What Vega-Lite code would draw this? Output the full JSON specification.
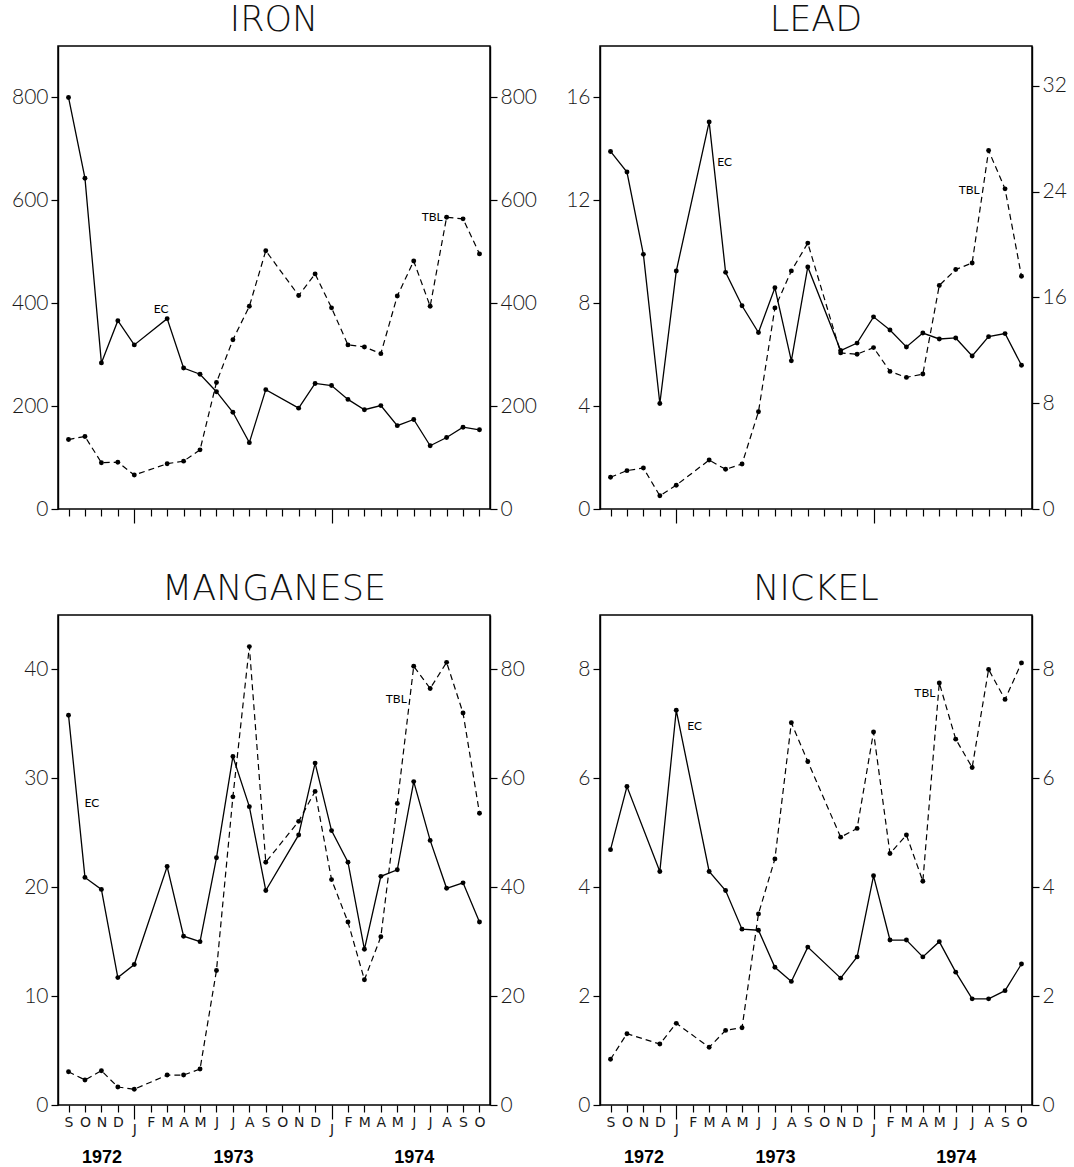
{
  "$schema": "https://vega.github.io/schema/vega-lite/v6.json",
  "background": "white",
  "padding": {"left": 10, "top": 2, "right": 5, "bottom": 0},
  "config": {
    "view": {"stroke": "black", "strokeWidth": 1.5},
    "axis": {"labelFont": "Lato", "labelFontSize": 21, "labelFontWeight": 300, "labelColor": "#1a1a1a", "tickColor": "black", "domainColor": "black", "grid": false, "tickWidth": 1.2, "domainWidth": 1.4},
    "title": {"font": "DejaVu Sans", "fontSize": 35, "fontWeight": 200, "color": "#111"}
  },
  "datasets": {
    "d": [
      {"metal": "IRON", "m": "1972-09", "ec": 800, "tbl": 135},
      {"metal": "IRON", "m": "1972-10", "ec": 643, "tbl": 141},
      {"metal": "IRON", "m": "1972-11", "ec": 284, "tbl": 90},
      {"metal": "IRON", "m": "1972-12", "ec": 366, "tbl": 91},
      {"metal": "IRON", "m": "1973-01", "ec": 319, "tbl": 66},
      {"metal": "IRON", "m": "1973-03", "ec": 370, "tbl": 88},
      {"metal": "IRON", "m": "1973-04", "ec": 274, "tbl": 93},
      {"metal": "IRON", "m": "1973-05", "ec": 262, "tbl": 115},
      {"metal": "IRON", "m": "1973-06", "ec": 228, "tbl": 246},
      {"metal": "IRON", "m": "1973-07", "ec": 188, "tbl": 329},
      {"metal": "IRON", "m": "1973-08", "ec": 129, "tbl": 394},
      {"metal": "IRON", "m": "1973-09", "ec": 232, "tbl": 502},
      {"metal": "IRON", "m": "1973-11", "ec": 196, "tbl": 415},
      {"metal": "IRON", "m": "1973-12", "ec": 244, "tbl": 457},
      {"metal": "IRON", "m": "1974-01", "ec": 240, "tbl": 391},
      {"metal": "IRON", "m": "1974-02", "ec": 213, "tbl": 319},
      {"metal": "IRON", "m": "1974-03", "ec": 193, "tbl": 315},
      {"metal": "IRON", "m": "1974-04", "ec": 201, "tbl": 302},
      {"metal": "IRON", "m": "1974-05", "ec": 162, "tbl": 414},
      {"metal": "IRON", "m": "1974-06", "ec": 174, "tbl": 482},
      {"metal": "IRON", "m": "1974-07", "ec": 123, "tbl": 394},
      {"metal": "IRON", "m": "1974-08", "ec": 139, "tbl": 567},
      {"metal": "IRON", "m": "1974-09", "ec": 159, "tbl": 564},
      {"metal": "IRON", "m": "1974-10", "ec": 154, "tbl": 496},
      {"metal": "LEAD", "m": "1972-09", "ec": 13.9, "tbl": 2.4},
      {"metal": "LEAD", "m": "1972-10", "ec": 13.1, "tbl": 2.9},
      {"metal": "LEAD", "m": "1972-11", "ec": 9.9, "tbl": 3.1},
      {"metal": "LEAD", "m": "1972-12", "ec": 4.1, "tbl": 1.0},
      {"metal": "LEAD", "m": "1973-01", "ec": 9.25, "tbl": 1.8},
      {"metal": "LEAD", "m": "1973-03", "ec": 15.05, "tbl": 3.7},
      {"metal": "LEAD", "m": "1973-04", "ec": 9.2, "tbl": 3.0},
      {"metal": "LEAD", "m": "1973-05", "ec": 7.9, "tbl": 3.4},
      {"metal": "LEAD", "m": "1973-06", "ec": 6.86, "tbl": 7.35},
      {"metal": "LEAD", "m": "1973-07", "ec": 8.6, "tbl": 15.2},
      {"metal": "LEAD", "m": "1973-08", "ec": 5.76, "tbl": 18.0},
      {"metal": "LEAD", "m": "1973-09", "ec": 9.41, "tbl": 20.1},
      {"metal": "LEAD", "m": "1973-11", "ec": 6.16, "tbl": 11.8},
      {"metal": "LEAD", "m": "1973-12", "ec": 6.45, "tbl": 11.7},
      {"metal": "LEAD", "m": "1974-01", "ec": 7.47, "tbl": 12.2},
      {"metal": "LEAD", "m": "1974-02", "ec": 6.96, "tbl": 10.4},
      {"metal": "LEAD", "m": "1974-03", "ec": 6.3, "tbl": 9.95},
      {"metal": "LEAD", "m": "1974-04", "ec": 6.84, "tbl": 10.2},
      {"metal": "LEAD", "m": "1974-05", "ec": 6.61, "tbl": 16.9},
      {"metal": "LEAD", "m": "1974-06", "ec": 6.65, "tbl": 18.1},
      {"metal": "LEAD", "m": "1974-07", "ec": 5.95, "tbl": 18.6},
      {"metal": "LEAD", "m": "1974-08", "ec": 6.7, "tbl": 27.1},
      {"metal": "LEAD", "m": "1974-09", "ec": 6.82, "tbl": 24.2},
      {"metal": "LEAD", "m": "1974-10", "ec": 5.59, "tbl": 17.6},
      {"metal": "MANGANESE", "m": "1972-09", "ec": 35.8, "tbl": 6.1},
      {"metal": "MANGANESE", "m": "1972-10", "ec": 20.9, "tbl": 4.6},
      {"metal": "MANGANESE", "m": "1972-11", "ec": 19.8, "tbl": 6.3},
      {"metal": "MANGANESE", "m": "1972-12", "ec": 11.7, "tbl": 3.3},
      {"metal": "MANGANESE", "m": "1973-01", "ec": 12.9, "tbl": 2.9},
      {"metal": "MANGANESE", "m": "1973-03", "ec": 21.9, "tbl": 5.5},
      {"metal": "MANGANESE", "m": "1973-04", "ec": 15.5, "tbl": 5.5},
      {"metal": "MANGANESE", "m": "1973-05", "ec": 15.0, "tbl": 6.6},
      {"metal": "MANGANESE", "m": "1973-06", "ec": 22.7, "tbl": 24.7},
      {"metal": "MANGANESE", "m": "1973-07", "ec": 32.0, "tbl": 56.6},
      {"metal": "MANGANESE", "m": "1973-08", "ec": 27.4, "tbl": 84.2},
      {"metal": "MANGANESE", "m": "1973-09", "ec": 19.7, "tbl": 44.6},
      {"metal": "MANGANESE", "m": "1973-11", "ec": 24.8, "tbl": 52.1},
      {"metal": "MANGANESE", "m": "1973-12", "ec": 31.4, "tbl": 57.6},
      {"metal": "MANGANESE", "m": "1974-01", "ec": 25.2, "tbl": 41.4},
      {"metal": "MANGANESE", "m": "1974-02", "ec": 22.3, "tbl": 33.6},
      {"metal": "MANGANESE", "m": "1974-03", "ec": 14.3, "tbl": 23.0},
      {"metal": "MANGANESE", "m": "1974-04", "ec": 21.0, "tbl": 30.9},
      {"metal": "MANGANESE", "m": "1974-05", "ec": 21.6, "tbl": 55.4},
      {"metal": "MANGANESE", "m": "1974-06", "ec": 29.7, "tbl": 80.6},
      {"metal": "MANGANESE", "m": "1974-07", "ec": 24.3, "tbl": 76.5},
      {"metal": "MANGANESE", "m": "1974-08", "ec": 19.9, "tbl": 81.3},
      {"metal": "MANGANESE", "m": "1974-09", "ec": 20.4, "tbl": 72.0},
      {"metal": "MANGANESE", "m": "1974-10", "ec": 16.8, "tbl": 53.6},
      {"metal": "NICKEL", "m": "1972-09", "ec": 4.69, "tbl": 0.84},
      {"metal": "NICKEL", "m": "1972-10", "ec": 5.85, "tbl": 1.31},
      {"metal": "NICKEL", "m": "1972-12", "ec": 4.29, "tbl": 1.12},
      {"metal": "NICKEL", "m": "1973-01", "ec": 7.25, "tbl": 1.5},
      {"metal": "NICKEL", "m": "1973-03", "ec": 4.29, "tbl": 1.06},
      {"metal": "NICKEL", "m": "1973-04", "ec": 3.94, "tbl": 1.37},
      {"metal": "NICKEL", "m": "1973-05", "ec": 3.23, "tbl": 1.42},
      {"metal": "NICKEL", "m": "1973-06", "ec": 3.21, "tbl": 3.51},
      {"metal": "NICKEL", "m": "1973-07", "ec": 2.53, "tbl": 4.52},
      {"metal": "NICKEL", "m": "1973-08", "ec": 2.27, "tbl": 7.02},
      {"metal": "NICKEL", "m": "1973-09", "ec": 2.9, "tbl": 6.31},
      {"metal": "NICKEL", "m": "1973-11", "ec": 2.33, "tbl": 4.92},
      {"metal": "NICKEL", "m": "1973-12", "ec": 2.72, "tbl": 5.08},
      {"metal": "NICKEL", "m": "1974-01", "ec": 4.21, "tbl": 6.85},
      {"metal": "NICKEL", "m": "1974-02", "ec": 3.03, "tbl": 4.62},
      {"metal": "NICKEL", "m": "1974-03", "ec": 3.03, "tbl": 4.96},
      {"metal": "NICKEL", "m": "1974-04", "ec": 2.72, "tbl": 4.11},
      {"metal": "NICKEL", "m": "1974-05", "ec": 3.0, "tbl": 7.75},
      {"metal": "NICKEL", "m": "1974-06", "ec": 2.44, "tbl": 6.72},
      {"metal": "NICKEL", "m": "1974-07", "ec": 1.95, "tbl": 6.2},
      {"metal": "NICKEL", "m": "1974-08", "ec": 1.95, "tbl": 8.0},
      {"metal": "NICKEL", "m": "1974-09", "ec": 2.1, "tbl": 7.45},
      {"metal": "NICKEL", "m": "1974-10", "ec": 2.59, "tbl": 8.12}
    ],
    "lab": [
      {"metal": "IRON", "s": "EC", "m": "1973-03", "v": 388, "label": "EC"},
      {"metal": "IRON", "s": "TBL", "m": "1974-07", "v": 567, "label": "TBL"},
      {"metal": "LEAD", "s": "EC", "m": "1973-04", "v": 13.5, "label": "EC"},
      {"metal": "LEAD", "s": "TBL", "m": "1974-07", "v": 24.1, "label": "TBL"},
      {"metal": "MANGANESE", "s": "EC", "m": "1972-10", "v": 27.7, "label": "EC"},
      {"metal": "MANGANESE", "s": "TBL", "m": "1974-05", "v": 74.5, "label": "TBL"},
      {"metal": "NICKEL", "s": "EC", "m": "1973-02", "v": 6.96, "label": "EC"},
      {"metal": "NICKEL", "s": "TBL", "m": "1974-04", "v": 7.57, "label": "TBL"}
    ]
  },
  "concat": [
    {
      "width": 432, "height": 463,
      "title": {"text": "IRON", "frame": "group", "anchor": "middle", "offset": 8},
      "layer": [
        {"layer": [
          {"data": {"name": "d"}, "transform": [{"filter": "datum.metal === 'IRON'"}],
           "mark": {"type": "line", "color": "black", "strokeWidth": 1.3, "point": {"filled": true, "color": "black", "size": 24}},
           "encoding": {
             "x": {"field": "m", "type": "ordinal", "scale": {"type": "point", "padding": 0.64, "domain": ["1972-09","1972-10","1972-11","1972-12","1973-01","1973-02","1973-03","1973-04","1973-05","1973-06","1973-07","1973-08","1973-09","1973-10","1973-11","1973-12","1974-01","1974-02","1974-03","1974-04","1974-05","1974-06","1974-07","1974-08","1974-09","1974-10"]},
                   "axis": {"orient": "bottom", "title": null, "labels": false, "domain": false, "tickSize": {"condition": {"test": "substring(datum.value,5,7) === '01'", "value": 14}, "value": 7}}},
             "y": {"field": "ec", "type": "quantitative", "scale": {"domain": [0, 850]}, "axis": {"orient": "left", "title": null, "values": [0, 200, 400, 600, 800], "tickSize": 7, "labelPadding": 3}}
           }},
          {"data": {"name": "lab"}, "transform": [{"filter": "datum.metal === 'IRON' && datum.s === 'EC'"}],
           "mark": {"type": "text", "font": "Lato", "fontSize": 12, "color": "black", "dx": -6},
           "encoding": {
             "x": {"field": "m", "type": "ordinal", "axis": {"orient": "bottom", "title": null, "labels": false, "domain": false, "tickSize": {"condition": {"test": "substring(datum.value,5,7) === '01'", "value": 14}, "value": 7}}},
             "y": {"field": "v", "type": "quantitative", "axis": {"orient": "left", "title": null, "values": [0, 200, 400, 600, 800], "tickSize": 7, "labelPadding": 3}},
             "text": {"field": "label"}
           }}
        ]},
        {"layer": [
          {"data": {"name": "d"}, "transform": [{"filter": "datum.metal === 'IRON'"}],
           "mark": {"type": "line", "color": "black", "strokeWidth": 1.2, "strokeDash": [6, 4], "point": {"filled": true, "color": "black", "size": 24}},
           "encoding": {
             "x": {"field": "m", "type": "ordinal", "axis": null},
             "y": {"field": "tbl", "type": "quantitative", "scale": {"domain": [0, 850]}, "axis": {"orient": "right", "title": null, "values": [0, 200, 400, 600, 800], "tickSize": 7, "labelPadding": 3}}
           }},
          {"data": {"name": "lab"}, "transform": [{"filter": "datum.metal === 'IRON' && datum.s === 'TBL'"}],
           "mark": {"type": "text", "font": "Lato", "fontSize": 12, "color": "black", "dx": 2},
           "encoding": {
             "x": {"field": "m", "type": "ordinal", "axis": null},
             "y": {"field": "v", "type": "quantitative", "axis": {"orient": "right", "title": null, "values": [0, 200, 400, 600, 800], "tickSize": 7, "labelPadding": 3}},
             "text": {"field": "label"}
           }}
        ]}
      ],
      "resolve": {"scale": {"y": "independent"}, "axis": {"x": "independent"}}
    },
    {
      "width": 432, "height": 463,
      "title": {"text": "LEAD", "frame": "group", "anchor": "middle", "offset": 8},
      "layer": [
        {"layer": [
          {"data": {"name": "d"}, "transform": [{"filter": "datum.metal === 'LEAD'"}],
           "mark": {"type": "line", "color": "black", "strokeWidth": 1.3, "point": {"filled": true, "color": "black", "size": 24}},
           "encoding": {
             "x": {"field": "m", "type": "ordinal", "scale": {"type": "point", "padding": 0.64, "domain": ["1972-09","1972-10","1972-11","1972-12","1973-01","1973-02","1973-03","1973-04","1973-05","1973-06","1973-07","1973-08","1973-09","1973-10","1973-11","1973-12","1974-01","1974-02","1974-03","1974-04","1974-05","1974-06","1974-07","1974-08","1974-09","1974-10"]},
                   "axis": {"orient": "bottom", "title": null, "labels": false, "domain": false, "tickSize": {"condition": {"test": "substring(datum.value,5,7) === '01'", "value": 14}, "value": 7}}},
             "y": {"field": "ec", "type": "quantitative", "scale": {"domain": [0, 17]}, "axis": {"orient": "left", "title": null, "values": [0, 4, 8, 12, 16], "tickSize": 7, "labelPadding": 3}}
           }},
          {"data": {"name": "lab"}, "transform": [{"filter": "datum.metal === 'LEAD' && datum.s === 'EC'"}],
           "mark": {"type": "text", "font": "Lato", "fontSize": 12, "color": "black", "dx": -1},
           "encoding": {
             "x": {"field": "m", "type": "ordinal", "axis": {"orient": "bottom", "title": null, "labels": false, "domain": false, "tickSize": {"condition": {"test": "substring(datum.value,5,7) === '01'", "value": 14}, "value": 7}}},
             "y": {"field": "v", "type": "quantitative", "axis": {"orient": "left", "title": null, "values": [0, 4, 8, 12, 16], "tickSize": 7, "labelPadding": 3}},
             "text": {"field": "label"}
           }}
        ]},
        {"layer": [
          {"data": {"name": "d"}, "transform": [{"filter": "datum.metal === 'LEAD'"}],
           "mark": {"type": "line", "color": "black", "strokeWidth": 1.2, "strokeDash": [6, 4], "point": {"filled": true, "color": "black", "size": 24}},
           "encoding": {
             "x": {"field": "m", "type": "ordinal", "axis": null},
             "y": {"field": "tbl", "type": "quantitative", "scale": {"domain": [0, 34]}, "axis": {"orient": "right", "title": null, "values": [0, 8, 16, 24, 32], "tickSize": 7, "labelPadding": 3}}
           }},
          {"data": {"name": "lab"}, "transform": [{"filter": "datum.metal === 'LEAD' && datum.s === 'TBL'"}],
           "mark": {"type": "text", "font": "Lato", "fontSize": 12, "color": "black", "dx": -3},
           "encoding": {
             "x": {"field": "m", "type": "ordinal", "axis": null},
             "y": {"field": "v", "type": "quantitative", "axis": {"orient": "right", "title": null, "values": [0, 8, 16, 24, 32], "tickSize": 7, "labelPadding": 3}},
             "text": {"field": "label"}
           }}
        ]}
      ],
      "resolve": {"scale": {"y": "independent"}, "axis": {"x": "independent"}}
    },
    {
      "width": 432, "height": 490,
      "title": {"text": "MANGANESE", "frame": "group", "anchor": "middle", "offset": 8},
      "layer": [
        {"layer": [
          {"data": {"name": "d"}, "transform": [{"filter": "datum.metal === 'MANGANESE'"}],
           "mark": {"type": "line", "color": "black", "strokeWidth": 1.3, "point": {"filled": true, "color": "black", "size": 24}},
           "encoding": {
             "x": {"field": "m", "type": "ordinal", "scale": {"type": "point", "padding": 0.64, "domain": ["1972-09","1972-10","1972-11","1972-12","1973-01","1973-02","1973-03","1973-04","1973-05","1973-06","1973-07","1973-08","1973-09","1973-10","1973-11","1973-12","1974-01","1974-02","1974-03","1974-04","1974-05","1974-06","1974-07","1974-08","1974-09","1974-10"]},
                   "axis": {"orient": "bottom", "title": null, "domain": false, "labelAngle": 0, "labelAlign": "center", "labelBaseline": "top", "labelFont": "DejaVu Sans", "labelFontSize": 14, "labelFontWeight": "normal", "labelColor": "#1a1a1a", "labelPadding": 3, "labelExpr": "substring('JFMAMJJASOND', toNumber(substring(datum.value,5,7)) - 1, toNumber(substring(datum.value,5,7)))", "tickSize": {"condition": {"test": "substring(datum.value,5,7) === '01'", "value": 14}, "value": 7}}},
             "y": {"field": "ec", "type": "quantitative", "scale": {"domain": [0, 45]}, "axis": {"orient": "left", "title": null, "values": [0, 10, 20, 30, 40], "tickSize": 7, "labelPadding": 3}}
           }},
          {"data": {"name": "lab"}, "transform": [{"filter": "datum.metal === 'MANGANESE' && datum.s === 'EC'"}],
           "mark": {"type": "text", "font": "Lato", "fontSize": 12, "color": "black", "dx": 7},
           "encoding": {
             "x": {"field": "m", "type": "ordinal", "axis": {"orient": "bottom", "title": null, "domain": false, "labelAngle": 0, "labelAlign": "center", "labelBaseline": "top", "labelFont": "DejaVu Sans", "labelFontSize": 14, "labelFontWeight": "normal", "labelColor": "#1a1a1a", "labelPadding": 3, "labelExpr": "substring('JFMAMJJASOND', toNumber(substring(datum.value,5,7)) - 1, toNumber(substring(datum.value,5,7)))", "tickSize": {"condition": {"test": "substring(datum.value,5,7) === '01'", "value": 14}, "value": 7}}},
             "y": {"field": "v", "type": "quantitative", "axis": {"orient": "left", "title": null, "values": [0, 10, 20, 30, 40], "tickSize": 7, "labelPadding": 3}},
             "text": {"field": "label"}
           }}
        ]},
        {"layer": [
          {"data": {"name": "d"}, "transform": [{"filter": "datum.metal === 'MANGANESE'"}],
           "mark": {"type": "line", "color": "black", "strokeWidth": 1.2, "strokeDash": [6, 4], "point": {"filled": true, "color": "black", "size": 24}},
           "encoding": {
             "x": {"field": "m", "type": "ordinal", "axis": {"orient": "bottom", "title": null, "values": ["1972-11", "1973-07", "1974-06"], "labelExpr": "substring(datum.value,0,4)", "labelAngle": 0, "labelAlign": "center", "labelBaseline": "top", "ticks": false, "tickSize": 0, "domain": false, "labelPadding": 43, "labelFont": "Liberation Sans", "labelFontSize": 18, "labelFontWeight": "bold", "labelColor": "black"}},
             "y": {"field": "tbl", "type": "quantitative", "scale": {"domain": [0, 90]}, "axis": {"orient": "right", "title": null, "values": [0, 20, 40, 60, 80], "tickSize": 7, "labelPadding": 3}}
           }},
          {"data": {"name": "lab"}, "transform": [{"filter": "datum.metal === 'MANGANESE' && datum.s === 'TBL'"}],
           "mark": {"type": "text", "font": "Lato", "fontSize": 12, "color": "black", "dx": -1},
           "encoding": {
             "x": {"field": "m", "type": "ordinal", "axis": {"orient": "bottom", "title": null, "values": ["1972-11", "1973-07", "1974-06"], "labelExpr": "substring(datum.value,0,4)", "labelAngle": 0, "labelAlign": "center", "labelBaseline": "top", "ticks": false, "tickSize": 0, "domain": false, "labelPadding": 43, "labelFont": "Liberation Sans", "labelFontSize": 18, "labelFontWeight": "bold", "labelColor": "black"}},
             "y": {"field": "v", "type": "quantitative", "axis": {"orient": "right", "title": null, "values": [0, 20, 40, 60, 80], "tickSize": 7, "labelPadding": 3}},
             "text": {"field": "label"}
           }}
        ]}
      ],
      "resolve": {"scale": {"y": "independent"}, "axis": {"x": "independent"}}
    },
    {
      "width": 432, "height": 490,
      "title": {"text": "NICKEL", "frame": "group", "anchor": "middle", "offset": 8},
      "layer": [
        {"layer": [
          {"data": {"name": "d"}, "transform": [{"filter": "datum.metal === 'NICKEL'"}],
           "mark": {"type": "line", "color": "black", "strokeWidth": 1.3, "point": {"filled": true, "color": "black", "size": 24}},
           "encoding": {
             "x": {"field": "m", "type": "ordinal", "scale": {"type": "point", "padding": 0.64, "domain": ["1972-09","1972-10","1972-11","1972-12","1973-01","1973-02","1973-03","1973-04","1973-05","1973-06","1973-07","1973-08","1973-09","1973-10","1973-11","1973-12","1974-01","1974-02","1974-03","1974-04","1974-05","1974-06","1974-07","1974-08","1974-09","1974-10"]},
                   "axis": {"orient": "bottom", "title": null, "domain": false, "labelAngle": 0, "labelAlign": "center", "labelBaseline": "top", "labelFont": "DejaVu Sans", "labelFontSize": 14, "labelFontWeight": "normal", "labelColor": "#1a1a1a", "labelPadding": 3, "labelExpr": "substring('JFMAMJJASOND', toNumber(substring(datum.value,5,7)) - 1, toNumber(substring(datum.value,5,7)))", "tickSize": {"condition": {"test": "substring(datum.value,5,7) === '01'", "value": 14}, "value": 7}}},
             "y": {"field": "ec", "type": "quantitative", "scale": {"domain": [0, 9]}, "axis": {"orient": "left", "title": null, "values": [0, 2, 4, 6, 8], "tickSize": 7, "labelPadding": 3}}
           }},
          {"data": {"name": "lab"}, "transform": [{"filter": "datum.metal === 'NICKEL' && datum.s === 'EC'"}],
           "mark": {"type": "text", "font": "Lato", "fontSize": 12, "color": "black", "dx": 2},
           "encoding": {
             "x": {"field": "m", "type": "ordinal", "axis": {"orient": "bottom", "title": null, "domain": false, "labelAngle": 0, "labelAlign": "center", "labelBaseline": "top", "labelFont": "DejaVu Sans", "labelFontSize": 14, "labelFontWeight": "normal", "labelColor": "#1a1a1a", "labelPadding": 3, "labelExpr": "substring('JFMAMJJASOND', toNumber(substring(datum.value,5,7)) - 1, toNumber(substring(datum.value,5,7)))", "tickSize": {"condition": {"test": "substring(datum.value,5,7) === '01'", "value": 14}, "value": 7}}},
             "y": {"field": "v", "type": "quantitative", "axis": {"orient": "left", "title": null, "values": [0, 2, 4, 6, 8], "tickSize": 7, "labelPadding": 3}},
             "text": {"field": "label"}
           }}
        ]},
        {"layer": [
          {"data": {"name": "d"}, "transform": [{"filter": "datum.metal === 'NICKEL'"}],
           "mark": {"type": "line", "color": "black", "strokeWidth": 1.2, "strokeDash": [6, 4], "point": {"filled": true, "color": "black", "size": 24}},
           "encoding": {
             "x": {"field": "m", "type": "ordinal", "axis": {"orient": "bottom", "title": null, "values": ["1972-11", "1973-07", "1974-06"], "labelExpr": "substring(datum.value,0,4)", "labelAngle": 0, "labelAlign": "center", "labelBaseline": "top", "ticks": false, "tickSize": 0, "domain": false, "labelPadding": 43, "labelFont": "Liberation Sans", "labelFontSize": 18, "labelFontWeight": "bold", "labelColor": "black"}},
             "y": {"field": "tbl", "type": "quantitative", "scale": {"domain": [0, 9]}, "axis": {"orient": "right", "title": null, "values": [0, 2, 4, 6, 8], "tickSize": 7, "labelPadding": 3}}
           }},
          {"data": {"name": "lab"}, "transform": [{"filter": "datum.metal === 'NICKEL' && datum.s === 'TBL'"}],
           "mark": {"type": "text", "font": "Lato", "fontSize": 12, "color": "black", "dx": 2},
           "encoding": {
             "x": {"field": "m", "type": "ordinal", "axis": {"orient": "bottom", "title": null, "values": ["1972-11", "1973-07", "1974-06"], "labelExpr": "substring(datum.value,0,4)", "labelAngle": 0, "labelAlign": "center", "labelBaseline": "top", "ticks": false, "tickSize": 0, "domain": false, "labelPadding": 43, "labelFont": "Liberation Sans", "labelFontSize": 18, "labelFontWeight": "bold", "labelColor": "black"}},
             "y": {"field": "v", "type": "quantitative", "axis": {"orient": "right", "title": null, "values": [0, 2, 4, 6, 8], "tickSize": 7, "labelPadding": 3}},
             "text": {"field": "label"}
           }}
        ]}
      ],
      "resolve": {"scale": {"y": "independent"}, "axis": {"x": "independent"}}
    }
  ],
  "columns": 2,
  "spacing": {"row": 46, "column": 26}
}
